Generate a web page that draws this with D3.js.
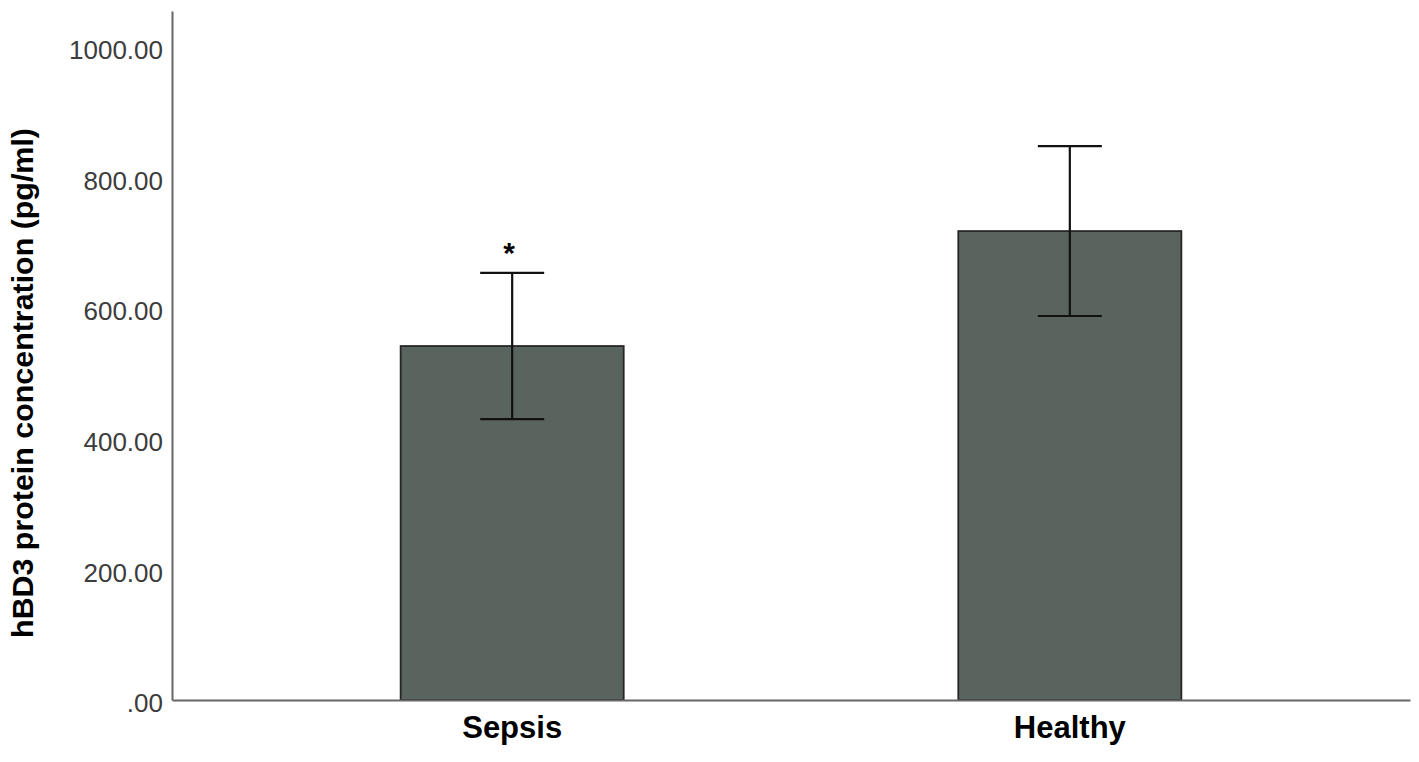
<!DOCTYPE html>
<html>
<head>
<meta charset="utf-8">
<script src="https://cdn.jsdelivr.net/npm/d3@7"></script>
<style>
  body { margin: 0; background: #fff; }
  .tick text { font-family: "Liberation Sans", Arial, sans-serif; }
</style>
</head>
<body>
<div id="chart"></div>
<script>
// Data
const groups = ["Sepsis", "Healthy"];
const means = [542, 718];
const errLow = [430, 588];
const errHigh = [654, 848];
const marks = ["*", ""];
const yTicks = [0, 200, 400, 600, 800, 1000];

const W = 1419, H = 762;
const plot = {left: 172, right: 1410, top: 11, bottom: 700};

const svg = d3.select("#chart").append("svg")
    .attr("width", W)
    .attr("height", H);

// scales
const x = d3.scaleBand()
    .domain(groups)
    .range([plot.left, plot.right])
    .paddingInner(0.6)
    .paddingOuter(0.41);

const y = d3.scaleLinear()
    .domain([0, 1055])
    .range([plot.bottom, plot.top]);

const fmt = v => d3.format(".2f")(v).replace(/^0\./, ".");

// bars
svg.selectAll(".bar")
    .data(groups)
    .enter()
    .append("rect")
    .attr("class", "bar")
    .attr("x", d => x(d))
    .attr("y", (d, i) => y(means[i]))
    .attr("width", x.bandwidth())
    .attr("height", (d, i) => y(0) - y(means[i]))
    .attr("fill", "#59645e")
    .attr("stroke", "#262626")
    .attr("stroke-width", 1.8);

// error bars
const capW = 64;
const eb = svg.selectAll(".err")
    .data(groups)
    .enter()
    .append("g")
    .attr("class", "err")
    .attr("stroke", "#111")
    .attr("stroke-width", 2.2);

eb.append("line")
    .attr("x1", d => x(d) + x.bandwidth() / 2)
    .attr("x2", d => x(d) + x.bandwidth() / 2)
    .attr("y1", (d, i) => y(errLow[i]))
    .attr("y2", (d, i) => y(errHigh[i]));

eb.append("line")
    .attr("x1", d => x(d) + x.bandwidth() / 2 - capW / 2)
    .attr("x2", d => x(d) + x.bandwidth() / 2 + capW / 2)
    .attr("y1", (d, i) => y(errHigh[i]))
    .attr("y2", (d, i) => y(errHigh[i]));

eb.append("line")
    .attr("x1", d => x(d) + x.bandwidth() / 2 - capW / 2)
    .attr("x2", d => x(d) + x.bandwidth() / 2 + capW / 2)
    .attr("y1", (d, i) => y(errLow[i]))
    .attr("y2", (d, i) => y(errLow[i]));

// significance marks
svg.selectAll(".mark")
    .data(groups)
    .enter()
    .append("text")
    .attr("class", "mark")
    .attr("x", d => x(d) + x.bandwidth() / 2 - 3)
    .attr("y", (d, i) => y(errHigh[i]) - 10)
    .attr("text-anchor", "middle")
    .attr("font-family", "Liberation Sans, Arial, sans-serif")
    .attr("font-size", 30)
    .attr("font-weight", "bold")
    .attr("fill", "#000")
    .text((d, i) => marks[i]);

// y axis
const yAxis = svg.append("g")
    .attr("transform", `translate(${plot.left},0)`)
    .call(d3.axisLeft(y).tickValues(yTicks).tickFormat(fmt).tickSize(0).tickPadding(9));
yAxis.select(".domain").attr("stroke", "#666").attr("stroke-width", 2);
yAxis.selectAll(".tick text")
    .attr("font-size", 26)
    .attr("fill", "#3c3c3c")
    .attr("dy", "0.45em");

// x axis
const xAxis = svg.append("g")
    .attr("transform", `translate(0,${plot.bottom})`)
    .call(d3.axisBottom(x).tickSize(0).tickPadding(16));
xAxis.select(".domain").attr("stroke", "#666").attr("stroke-width", 2);
xAxis.selectAll(".tick text")
    .attr("font-size", 31)
    .attr("font-weight", "bold")
    .attr("fill", "#000");

// y title
svg.append("text")
    .attr("transform", `translate(33,383) rotate(-90)`)
    .attr("text-anchor", "middle")
    .attr("font-family", "Liberation Sans, Arial, sans-serif")
    .attr("font-size", 30.4)
    .attr("font-weight", "bold")
    .attr("fill", "#000")
    .text("hBD3 protein concentration (pg/ml)");
</script>
</body>
</html>
